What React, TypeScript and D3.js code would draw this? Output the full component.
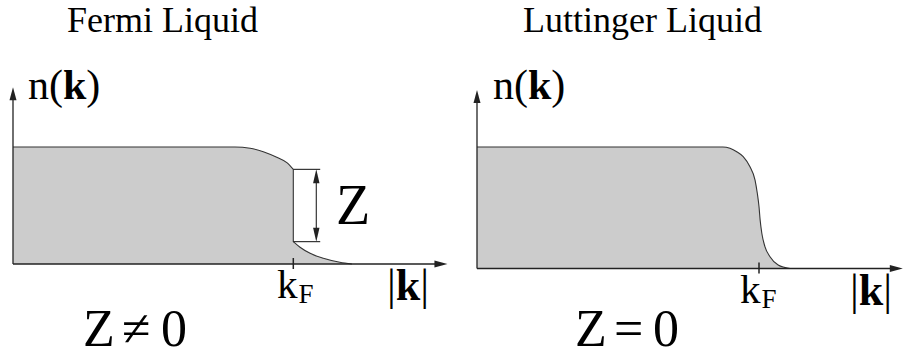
import React from "react";
import * as d3 from "d3";

// Momentum distribution n(k), with k in units of k_F
const fermiUpperK = [0, 0.792, 0.846, 0.893, 0.941, 0.977, 1.0];
const fermiUpperN = [1, 1, 0.989, 0.96, 0.912, 0.866, 0.809];
const fermiTailK = [1.0, 1.024, 1.06, 1.107, 1.166, 1.209];
const fermiTailN = [0.191, 0.143, 0.091, 0.049, 0.015, 0];
const zJump = { top: 0.809, bottom: 0.191, k: 1.082, capEnd: 1.096 };

const luttK = [0, 0.872, 0.897, 0.921, 0.944, 0.968, 0.986, 0.994, 1.0, 1.004, 1.01, 1.021, 1.039, 1.068, 1.11];
const luttN = [1, 1, 0.989, 0.961, 0.92, 0.837, 0.728, 0.619, 0.51, 0.4, 0.29, 0.18, 0.097, 0.029, 0];

const titles = ["Fermi Liquid", "Luttinger Liquid"];
const bottomLabels = [["Z", "\u2260", "0"], ["Z", "=", "0"]];

const SERIF = "'Liberation Serif', 'Times New Roman', Times, serif";
const AXIS = "#222";

type Pt = [number, number];
const zip = (ks: number[], ns: number[]): Pt[] => ks.map((k, i) => [k, ns[i]]);

function Arrow({ x, y, dir, len = 13, half = 3.5 }: { x: number; y: number; dir: "up" | "down" | "right"; len?: number; half?: number }) {
  let d = "";
  if (dir === "up") d = `M${x},${y} L${x - half},${y + len} L${x + half},${y + len} Z`;
  if (dir === "down") d = `M${x},${y} L${x - half},${y - len} L${x + half},${y - len} Z`;
  if (dir === "right") d = `M${x},${y} L${x - len},${y - half} L${x - len},${y + half} Z`;
  return <path d={d} fill={AXIS} />;
}

function Panel({
  xRange, yRange, xMax, yMax, segments, title, titleX, nkX, kfLabel, absK, bottom, zMarker,
}: any) {
  const x = d3.scaleLinear().domain([0, 1]).range(xRange);
  const y = d3.scaleLinear().domain([0, 1]).range(yRange);
  const line = d3.line<Pt>().x((d) => x(d[0])).y((d) => y(d[1])).curve(d3.curveMonotoneX);

  // outline: curve segments joined by straight vertical drops
  const outline = segments.map((s: Pt[]) => line(s) as string).map((p: string, i: number) => (i === 0 ? p : "L" + p.slice(1))).join("");
  const areaPath = `M${x(0)},${y(0)} L${outline.slice(1)} L${x(0)},${y(0)} Z`;

  const x0 = x(0), y0 = y(0);
  const xEnd = x(xMax), yTop = y(yMax);
  const kF = x(1);

  return (
    <g>
      <text x={titleX} y={32} fontFamily={SERIF} fontSize={36} fill="#000">{title}</text>
      <path d={areaPath} fill="#cccccc" stroke="none" />
      <path d={outline} fill="none" stroke="#333" strokeWidth={1.1} />
      {/* axes */}
      <line x1={x0} y1={y0} x2={xEnd - 10} y2={y0} stroke={AXIS} strokeWidth={1.3} />
      <Arrow x={xEnd} y={y0} dir="right" />
      <line x1={x0} y1={y0} x2={x0} y2={yTop + 10} stroke={AXIS} strokeWidth={1.3} />
      <Arrow x={x0} y={yTop} dir="up" />
      {/* k_F tick */}
      <line x1={kF} y1={y0 - 6} x2={kF} y2={y0 + 5} stroke={AXIS} strokeWidth={1.5} />
      <text x={nkX} y={99} fontFamily={SERIF} fontSize={42} fill="#000">
        n(<tspan fontWeight="bold">k</tspan>)
      </text>
      <text x={kfLabel.x} y={y0 + 34} fontFamily={SERIF} fontSize={41} fill="#000">
        k<tspan fontSize={27} dy={5} dx={1}>F</tspan>
      </text>
      <text x={absK} y={y0 + 36} fontFamily={SERIF} fontSize={44} fill="#000">
        |<tspan fontWeight="bold">k</tspan>|
      </text>
      {zMarker && (
        <g>
          <line x1={kF} y1={y(zMarker.top)} x2={x(zMarker.capEnd)} y2={y(zMarker.top)} stroke={AXIS} strokeWidth={1.1} />
          <line x1={kF} y1={y(zMarker.bottom)} x2={x(zMarker.capEnd)} y2={y(zMarker.bottom)} stroke={AXIS} strokeWidth={1.1} />
          <line x1={x(zMarker.k)} y1={y(zMarker.top) + 10} x2={x(zMarker.k)} y2={y(zMarker.bottom) - 10} stroke={AXIS} strokeWidth={1.1} />
          <Arrow x={x(zMarker.k)} y={y(zMarker.top)} dir="up" half={3.2} len={14} />
          <Arrow x={x(zMarker.k)} y={y(zMarker.bottom)} dir="down" half={3.2} len={14} />
          <text x={336} y={224} fontFamily={SERIF} fontSize={56} fill="#000">Z</text>
        </g>
      )}
      <text y={346} fontFamily={SERIF} fontSize={52} fill="#000">
        <tspan x={bottom.x[0]}>{bottom.parts[0]}</tspan>
        <tspan x={bottom.x[1]}>{bottom.parts[1]}</tspan>
        <tspan x={bottom.x[2]}>{bottom.parts[2]}</tspan>
      </text>
    </g>
  );
}

export default function App() {
  return (
    <svg width={904} height={356} style={{ position: "fixed", left: 0, top: 0, background: "#fff" }}>
      <rect width={904} height={356} fill="#fff" />
      <Panel
        xRange={[13, 293.3]}
        yRange={[264, 147]}
        xMax={1.55}
        yMax={1.51}
        segments={[zip(fermiUpperK, fermiUpperN), zip(fermiTailK, fermiTailN)]}
        title={titles[0]}
        titleX={67}
        nkX={28}
        kfLabel={{ x: 277 }}
        absK={387}
        bottom={{ parts: bottomLabels[0], x: [83, 122, 161] }}
        zMarker={zJump}
      />
      <Panel
        xRange={[477, 759]}
        yRange={[268.5, 147]}
        xMax={1.51}
        yMax={1.47}
        segments={[zip(luttK, luttN)]}
        title={titles[1]}
        titleX={523}
        nkX={493}
        kfLabel={{ x: 740 }}
        absK={850}
        bottom={{ parts: bottomLabels[1], x: [575, 614, 653] }}
      />
    </svg>
  );
}
